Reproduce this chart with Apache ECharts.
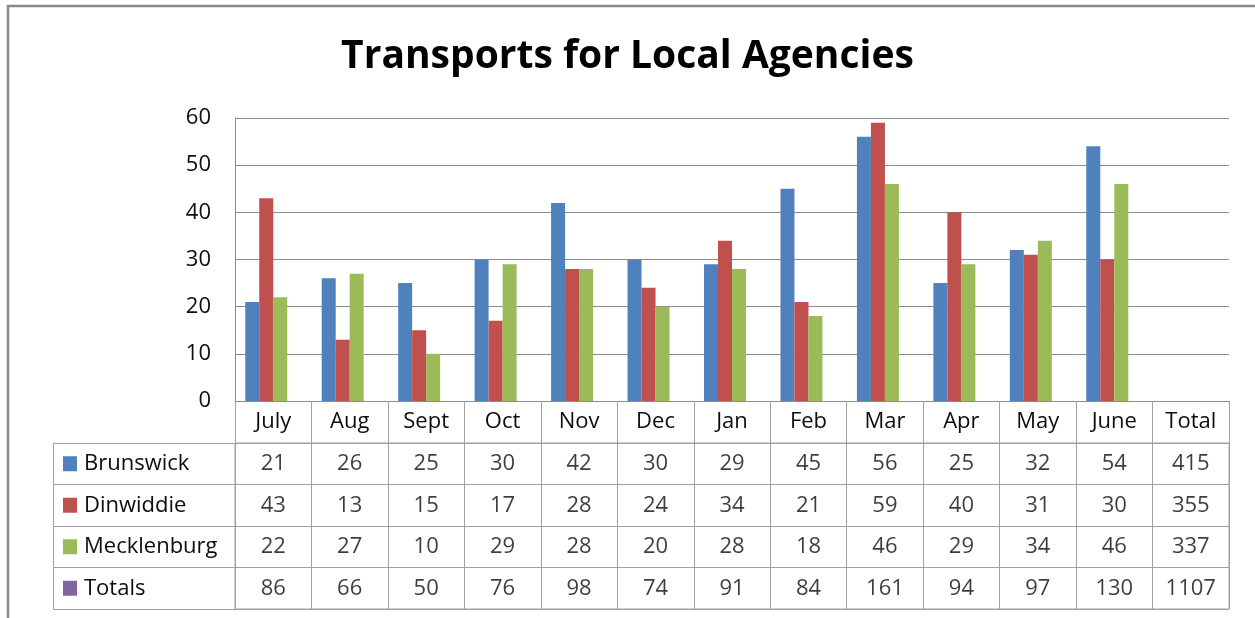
<!DOCTYPE html>
<html>
<head>
<meta charset="utf-8">
<script src="https://cdn.jsdelivr.net/npm/echarts@6/dist/echarts.min.js"></script>
<style>
  html, body { margin: 0; padding: 0; background: #fff; }
  #chart { width: 1255px; height: 618px; }
</style>
</head>
<body>
<div id="chart"></div>
<script>
// ---- data ----
const months = ['July','Aug','Sept','Oct','Nov','Dec','Jan','Feb','Mar','Apr','May','June'];
const totalLabel = 'Total';
const brunswick   = [21, 26, 25, 30, 42, 30, 29, 45, 56, 25, 32, 54];
const dinwiddie   = [43, 13, 15, 17, 28, 24, 34, 21, 59, 40, 31, 30];
const mecklenburg = [22, 27, 10, 29, 28, 20, 28, 18, 46, 29, 34, 46];
const totals      = [86, 66, 50, 76, 98, 74, 91, 84, 161, 94, 97, 130];
const rowTotals   = [415, 355, 337, 1107];
const rowNames    = ['Brunswick', 'Dinwiddie', 'Mecklenburg', 'Totals'];
const yMin = 0, yMax = 60, yStep = 10;

// ---- build ----
const categories = months.concat([totalLabel]);
const colors = ['#4F81BD', '#C0504D', '#9BBB59', '#8064A2'];
const rows = [brunswick, dinwiddie, mecklenburg, totals];
const iconKeys = ['i0', 'i1', 'i2', 'i3'];

const cellData = [];
rows.forEach((r, ri) => {
  r.forEach((v, ci) => cellData.push([ci, ri, v]));
  cellData.push([months.length, ri, rowTotals[ri]]);
});

const FONT = 'Open Sans';
const TXT = '#0d0d0d';
const GRID_LINE = '#8c8c8c';
const TABLE_LINE = '#a0a0a0';

const rich = { t: { fontFamily: FONT, fontSize: 22, color: TXT, padding: [0, 0, 0, 7] } };
iconKeys.forEach((k, i) => { rich[k] = { backgroundColor: colors[i], width: 14, height: 15 }; });

function barSeries(name, data, idx) {
  return {
    type: 'bar', name: name, xAxisIndex: 0, yAxisIndex: 0,
    data: data.concat([null]),
    barWidth: 14, barGap: '0%',
    itemStyle: { color: colors[idx] },
    silent: true
  };
}

const chart = echarts.init(document.getElementById('chart'), null, { renderer: 'canvas' });
chart.setOption({
  animation: false,
  backgroundColor: '#ffffff',
  title: {
    text: 'Transports for Local Agencies',
    left: 'center', top: 37,
    padding: [0, 0, 0, 10],
    textStyle: { fontFamily: FONT, fontWeight: 'bold', fontSize: 39, color: '#000' }
  },
  graphic: [{
    type: 'rect', silent: true,
    shape: { x: 8, y: 6, width: 1400, height: 800 },
    style: { fill: 'none', stroke: '#8a8a8a', lineWidth: 2.5 }
  }],
  grid: [
    { left: 235, top: 118, width: 994, height: 283, containLabel: false },
    { left: 235, top: 443, width: 994, height: 166, containLabel: false,
      show: true, borderColor: TABLE_LINE, borderWidth: 1 }
  ],
  xAxis: [
    {
      type: 'category', gridIndex: 0, data: categories, boundaryGap: true,
      axisLine: { show: true, lineStyle: { color: GRID_LINE, width: 1 } },
      axisTick: { show: true, length: 42, interval: 0, alignWithLabel: false, lineStyle: { color: TABLE_LINE } },
      axisLabel: { interval: 0, margin: 10, fontFamily: FONT, fontSize: 22, color: TXT, lineHeight: 22 },
      splitLine: { show: false }
    },
    {
      type: 'category', gridIndex: 1, data: categories, boundaryGap: true, position: 'top',
      axisLine: { show: true, lineStyle: { color: TABLE_LINE } },
      axisTick: { show: false }, axisLabel: { show: false },
      splitLine: { show: true, interval: 0, lineStyle: { color: TABLE_LINE, width: 1 } }
    }
  ],
  yAxis: [
    {
      type: 'value', gridIndex: 0, min: yMin, max: yMax, interval: yStep,
      axisLine: { show: true, lineStyle: { color: GRID_LINE } },
      axisTick: { show: false },
      axisLabel: { margin: 24, fontFamily: FONT, fontSize: 22, color: TXT },
      splitLine: { show: true, lineStyle: { color: GRID_LINE, width: 1 } }
    },
    {
      type: 'category', gridIndex: 1, data: rowNames, inverse: true, boundaryGap: true,
      axisLine: { show: true, lineStyle: { color: TABLE_LINE } },
      axisTick: { show: true, length: 182, interval: 0, alignWithLabel: false, lineStyle: { color: TABLE_LINE } },
      axisLabel: {
        interval: 0, align: 'left', margin: 172,
        formatter: function (v, i) { return '{' + iconKeys[i] + '|}{t|' + v + '}'; },
        rich: rich
      },
      splitLine: { show: true, interval: 0, lineStyle: { color: TABLE_LINE } }
    },
    {
      type: 'category', gridIndex: 1, data: rowNames, inverse: true, position: 'left', offset: 182,
      axisLine: { show: true, lineStyle: { color: TABLE_LINE } },
      axisTick: { show: false }, axisLabel: { show: false }, splitLine: { show: false }
    }
  ],
  series: [
    barSeries(rowNames[0], brunswick, 0),
    barSeries(rowNames[1], dinwiddie, 1),
    barSeries(rowNames[2], mecklenburg, 2),
    {
      type: 'bar', name: rowNames[3], xAxisIndex: 0, yAxisIndex: 0,
      data: categories.map(() => null),
      barWidth: 14, barGap: '0%', itemStyle: { color: colors[3] }, silent: true
    },
    {
      type: 'scatter', name: 'table', xAxisIndex: 1, yAxisIndex: 1,
      data: cellData, symbolSize: 1, itemStyle: { color: 'rgba(0,0,0,0)' }, silent: true,
      label: {
        show: true, position: 'inside',
        formatter: function (p) { return String(p.value[2]); },
        fontFamily: FONT, fontSize: 22, color: TXT
      }
    }
  ]
});
</script>
</body>
</html>
